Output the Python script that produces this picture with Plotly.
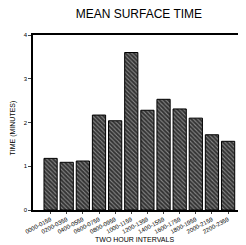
import plotly.graph_objects as go

intervals = ["0000-0159", "0200-0359", "0400-0559", "0600-0759", "0800-0959", "1000-1159",
             "1200-1359", "1400-1559", "1600-1759", "1800-1959", "2000-2159", "2200-2359"]
mean_minutes = [1.18, 1.09, 1.12, 2.17, 2.04, 3.60, 2.28, 2.53, 2.31, 2.10, 1.72, 1.57]
y_ticks = [0, 1, 2, 3, 4]

# page body has an 8px margin, so the figure is sized/offset to compensate
fig = go.Figure(go.Bar(
    x=list(range(len(intervals))), y=mean_minutes, width=0.82,
    marker=dict(color="#333333", line=dict(color="black", width=1),
                pattern=dict(shape="\\", fgcolor="#dddddd", bgcolor="#333333", size=3, solidity=0.35)),
))
fig.update_layout(
    width=238, height=237, margin=dict(l=25, r=3, t=27, b=35),
    paper_bgcolor="white", plot_bgcolor="white", showlegend=False,
    font=dict(family="Liberation Sans, Arial", color="black", size=6),
    title=dict(text="MEAN SURFACE TIME", x=0.55, xanchor="center", y=0.975, yanchor="middle",
               font=dict(size=12, family="Liberation Sans, Arial")),
    annotations=[
        dict(text="TIME (MINUTES)", xref="paper", yref="paper", x=0, y=0.5, xanchor="center",
             yanchor="middle", xshift=-21, yshift=-6, textangle=-90, showarrow=False, font=dict(size=7)),
        dict(text="TWO HOUR INTERVALS", xref="paper", yref="paper", x=0.486, y=0, xanchor="center",
             yanchor="middle", yshift=-29, showarrow=False, font=dict(size=7)),
    ],
)
fig.update_xaxes(range=[-1.09, 11.8], tickvals=list(range(len(intervals))), ticktext=intervals,
                 tickangle=-28, showline=True, linecolor="black", linewidth=1.5, mirror=True,
                 ticks="outside", ticklen=2, tickfont=dict(size=6), showgrid=False, zeroline=False)
fig.update_yaxes(range=[0, 4], tickvals=y_ticks, showline=True, linecolor="black", linewidth=1.5,
                 mirror=True, ticks="outside", ticklen=3, tickfont=dict(size=6), showgrid=False,
                 zeroline=False)
fig.write_html("out.html")
